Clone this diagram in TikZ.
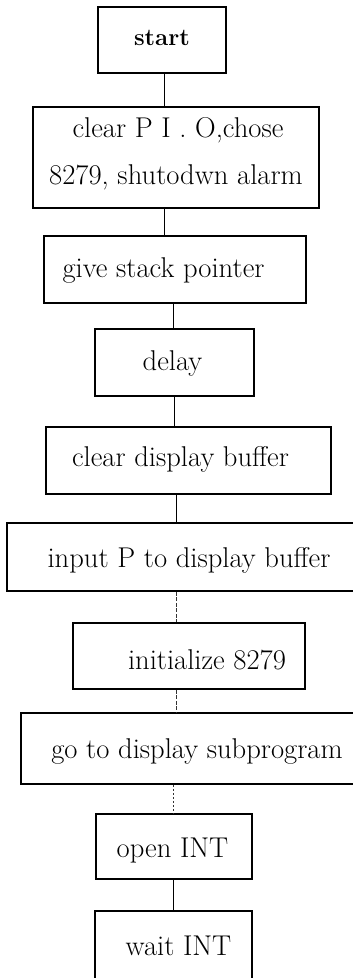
\documentclass[tikz,border=0pt]{standalone}
\begin{document}
\begin{tikzpicture}[x=1pt,y=-1pt,
  box/.style={draw=black,line width=1.8pt,rectangle,inner sep=0pt},
  txt/.style={inner sep=0pt,font=\fontsize{28.6}{34}\selectfont},
  link/.style={draw=black,line width=0.9pt},
  faint/.style={draw=black!80,line width=0.8pt,dash pattern=on 4pt off 1.5pt}]
\useasboundingbox (0,0) rectangle (353,978);
\clip (0,0) rectangle (353,978);
% boxes
\node[box,minimum width=128pt,minimum height=66pt] (b1) at (162,40) {};
\node[box,minimum width=286pt,minimum height=101pt] (b2) at (176,157.5) {};
\node[box,minimum width=262pt,minimum height=67pt] (b3) at (175,269.5) {};
\node[box,minimum width=159pt,minimum height=67pt] (b4) at (174.5,362.5) {};
\node[box,minimum width=285pt,minimum height=67pt] (b5) at (188.5,460.5) {};
\node[box,minimum width=360pt,minimum height=68pt] (b6) at (187,557) {};
\node[box,minimum width=232pt,minimum height=66pt] (b7) at (189,656) {};
\node[box,minimum width=350pt,minimum height=71pt] (b8) at (196,748.5) {};
\node[box,minimum width=156pt,minimum height=65pt] (b9) at (174,846.5) {};
\node[box,minimum width=157pt,minimum height=90pt] (b10) at (173.5,956) {};
% texts
\node[txt,font=\fontsize{24}{30}\selectfont\bfseries] (t1) at (162,38) {start};
\node[txt] (t2a) at (178,130) {clear P I . O,chose};
\node[txt] (t2b) at (176,177) {8279, shutodwn alarm};
\node[txt] (t3) at (163.5,270) {give stack pointer};
\node[txt] (t4) at (172.5,363) {delay};
\node[txt] (t5) at (180.5,459) {clear display buffer};
\node[txt] (t6) at (189,560) {input P to display buffer};
\node[txt] (t7) at (207,660) {initialize 8279};
\node[txt] (t8) at (197,751) {go to display subprogram};
\node[txt] (t9) at (172.5,851) {open INT};
\node[txt] (t10) at (178.5,946) {wait INT};
% connector x positions
\coordinate (x1) at (164,0);
\coordinate (x3) at (173,0);
\coordinate (x4) at (174,0);
\coordinate (x5) at (176,0);
% connectors
\draw[link] (x1 |- b1.south) -- (x1 |- b2.north);
\draw[link] (x1 |- b2.south) -- (x1 |- b3.north);
\draw[link] (x3 |- b3.south) -- (x3 |- b4.north);
\draw[link] (x4 |- b4.south) -- (x4 |- b5.north);
\draw[link] (x5 |- b5.south) -- (x5 |- b6.north);
\draw[faint] (x5 |- b6.south) -- (x5 |- b7.north);
\draw[faint] (x5 |- b7.south) -- (x5 |- b8.north);
\draw[faint,dash pattern=on 2pt off 2pt] (x3 |- b8.south) -- (x3 |- b9.north);
\draw[link] (x3 |- b9.south) -- (x3 |- b10.north);
\end{tikzpicture}
\end{document}
